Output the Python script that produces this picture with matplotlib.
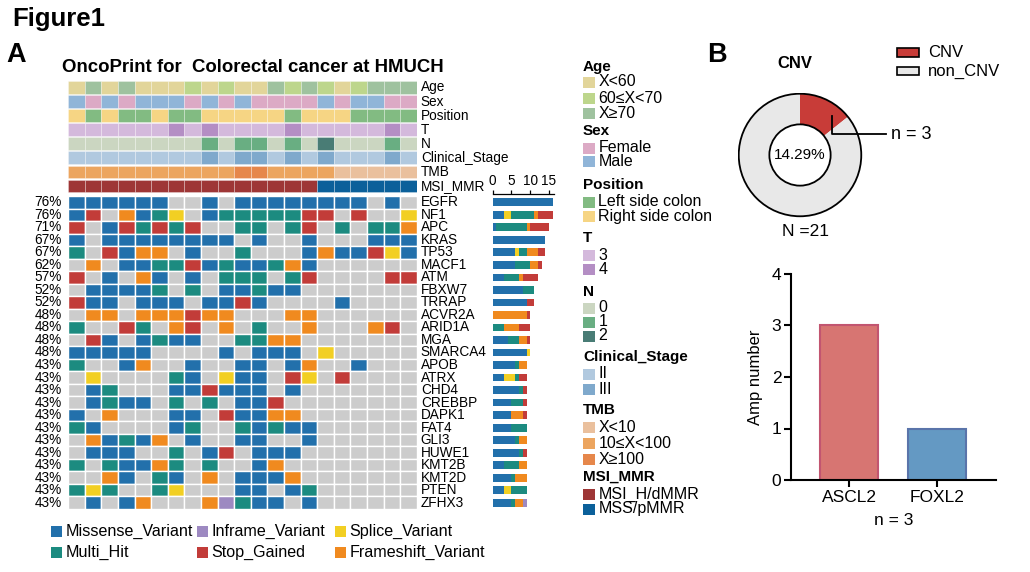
import matplotlib
matplotlib.use('Agg')
import matplotlib.pyplot as plt
from matplotlib.patches import Rectangle, Circle
import numpy as np

plt.rcParams['font.family'] = ['Liberation Sans', 'DejaVu Sans']

# ---------------- data ----------------
samples = list(range(21))
genes = ['EGFR', 'NF1', 'APC', 'KRAS', 'TP53', 'MACF1', 'ATM', 'FBXW7', 'TRRAP',
         'ACVR2A', 'ARID1A', 'MGA', 'SMARCA4', 'APOB', 'ATRX', 'CHD4', 'CREBBP',
         'DAPK1', 'FAT4', 'GLI3', 'HUWE1', 'KMT2B', 'KMT2D', 'PTEN', 'ZFHX3']
# B missense, M multi_hit, S stop_gained, F frameshift, P splice, I inframe, . none
mutations = [
    'BBBBBB..B.BBBBBBBB.B.',
    'BS.FBMP.BMMMMMSS.S..P',
    'S.BSMSMS..MM.MS.M.MMF',
    'B.BBBBBBBB.B..B...BBB',
    'M.SBFF.B..M...BFBBSPB',
    '.F.BBMMSBMBBMFB......',
    'S.B.FB.B.MMM.MS....SS',
    '.BBBBM.M.BBMBB.......',
    'SBB.BBB.BBSB....B....',
    '.FF.FFFSFF...FF......',
    'M..SM.FS.F.M..F...FS.',
    '.SB.BMBB..MMFF.......',
    'BBBBB....B.BBB.P.....',
    'M..BF..B..BB.BF..B...',
    '.P....MB.PBB.SP.S....',
    '.BM...BBSBBB.B.......',
    '.BMBB.M.M.BBS........',
    'B.F...BB.SBBFF.......',
    'MB....BM..MBMBB......',
    '.FBMBF.B..BB..B......',
    '.BBB..M.BS.BBB.......',
    'M.MBBFM.M..BF........',
    '..FB.MB.F.BBBF.......',
    'MPM..MP...BB.BM......',
    '.B.BF...FIMBB.B......',
]

age = ['X<60', 'X≥70', 'X<60', 'X≥70', 'X<60', 'X<60', 'X<60', '60≤X<70', 'X<60',
       '60≤X<70', 'X<60', 'X<60', 'X≥70', '60≤X<70', 'X≥70', '60≤X<70', 'X<60',
       '60≤X<70', 'X≥70', 'X≥70', 'X≥70']
sex = ['Male', 'Female', 'Male', 'Female', 'Male', 'Male', 'Male', 'Female', 'Male',
       'Female', 'Male', 'Female', 'Female', 'Female', 'Female', 'Male', 'Female',
       'Male', 'Male', 'Female', 'Female']
position = ['R', 'L', 'R', 'L', 'L', 'R', 'L', 'L', 'R', 'R', 'R', 'R', 'R', 'L', 'R',
            'R', 'R', 'L', 'L', 'L', 'L']
t_stage = ['3', '3', '3', '3', '3', '3', '4', '3', '4', '3', '3', '3', '3', '4', '3',
           '3', '3', '3', '3', '4', '3']
n_stage = ['0', '0', '0', '0', '0', '0', '0', '0', '1', '0', '1', '1', '0', '1', '0',
           '2', '0', '0', '0', '1', '0']
clinical = ['II', 'II', 'II', 'II', 'II', 'II', 'II', 'II', 'III', 'II', 'III', 'III',
            'II', 'III', 'II', 'III', 'II', 'II', 'II', 'III', 'II']
tmb = ['10≤X<100'] * 10 + ['X≥100'] * 2 + ['10≤X<100'] * 4 + ['X<10'] * 5
msi = ['MSI_H/dMMR'] * 15 + ['MSS/pMMR'] * 6

cnv_labels = ['CNV', 'non_CNV']
cnv_counts = [3, 18]
amp_genes = ['ASCL2', 'FOXL2']
amp_counts = [3, 1]

# ---------------- styles ----------------
mut_colors = {'B': '#2270ab', 'M': '#1c8b80', 'S': '#c23c39', 'F': '#f08a1f',
              'P': '#f2cf23', 'I': '#9d89c1', '.': '#cccccc'}
mut_order = ['B', 'P', 'M', 'F', 'S', 'I']
mut_names = {'B': 'Missense_Variant', 'M': 'Multi_Hit', 'I': 'Inframe_Variant',
             'S': 'Stop_Gained', 'P': 'Splice_Variant', 'F': 'Frameshift_Variant'}

age_c = {'X<60': '#e2d59a', '60≤X<70': '#bdd68c', 'X≥70': '#9fc29f'}
sex_c = {'Female': '#dcaac5', 'Male': '#90b5d8'}
pos_c = {'L': '#82bb82', 'R': '#f6d584'}
pos_names = {'L': 'Left side colon', 'R': 'Right side colon'}
t_c = {'3': '#d4b9dc', '4': '#b48ec4'}
n_c = {'0': '#cbd6c1', '1': '#69ae82', '2': '#497c75'}
st_c = {'II': '#b1c9df', 'III': '#7fa9cc'}
tmb_c = {'X<10': '#eac09d', '10≤X<100': '#eca55f', 'X≥100': '#e6874b'}
msi_c = {'MSI_H/dMMR': '#9e3636', 'MSS/pMMR': '#0b609a'}

W, H = 1030, 572
LAB = 9.8


def rect(l, t, r, b):
    return [l / W, 1 - b / H, (r - l) / W, (b - t) / H]


fig = plt.figure(figsize=(10.3, 5.72), dpi=100)
ov = fig.add_axes([0, 0, 1, 1])
ov.set_xlim(0, W)
ov.set_ylim(H, 0)
ov.axis('off')

ov.text(12, 26, 'Figure1', fontsize=18.5, fontweight='bold', va='baseline')
ov.text(6, 61.5, 'A', fontsize=19.5, fontweight='bold', va='baseline')
ov.text(707, 61.5, 'B', fontsize=19.5, fontweight='bold', va='baseline')
ov.text(61.5, 72.5, 'OncoPrint for  Colorectal cancer at HMUCH', fontsize=13.4,
        fontweight='bold', va='baseline')

# ---------------- annotation tracks ----------------
ax_a = fig.add_axes(rect(68.3, 81, 416.7, 192.5))
tracks = [('Age', age, age_c), ('Sex', sex, sex_c), ('Position', position, pos_c),
          ('T', t_stage, t_c), ('N', n_stage, n_c), ('Clinical_Stage', clinical, st_c),
          ('TMB', tmb, tmb_c), ('MSI_MMR', msi, msi_c)]
for i, (name, vals, cm) in enumerate(tracks):
    ax_a.bar(samples, 0.91, bottom=i - 0.455, width=1, color=[cm[v] for v in vals],
             edgecolor=(1, 1, 1, 0.5), linewidth=0.4)
    ax_a.text(20.75, i, name, va='center', ha='left', fontsize=LAB)
ax_a.set_xlim(-0.5, 20.5)
ax_a.set_ylim(7.455, -0.455)
ax_a.axis('off')

# ---------------- mutation matrix ----------------
ax_m = fig.add_axes(rect(68.3, 196, 416.7, 509))
for i, g in enumerate(genes):
    row = mutations[i]
    ax_m.bar(samples, 1, bottom=i - 0.5, width=1, color=[mut_colors[c] for c in row],
             edgecolor='white', linewidth=1.0)
    ax_m.text(20.75, i, g, va='center', ha='left', fontsize=LAB)
    pct = round(100 * sum(c != '.' for c in row) / len(row))
    ax_m.text(-0.88, i, f'{pct}%', va='center', ha='right', fontsize=LAB)
ax_m.set_xlim(-0.5, 20.5)
ax_m.set_ylim(24.5, -0.5)
ax_m.axis('off')

# ---------------- side bar plot ----------------
ax_s = fig.add_axes(rect(492.7, 194, 554.3, 509))
left = np.zeros(len(genes))
for t in mut_order:
    counts = np.array([row.count(t) for row in mutations])
    ax_s.barh(range(len(genes)), counts, left=left, height=0.62, color=mut_colors[t])
    left += counts
ax_s.set_xlim(0, 16.4)
ax_s.set_ylim(24.5, -0.66)
for s in ['bottom', 'left', 'right']:
    ax_s.spines[s].set_visible(False)
ax_s.spines['top'].set_linewidth(0.9)
ax_s.set_xticks([0, 5, 10, 15])
ax_s.set_yticks([])
ax_s.tick_params(axis='x', top=True, bottom=False, labeltop=True, labelbottom=False,
                 direction='out', length=3, width=0.9, pad=1, labelsize=9.8)
ax_s.patch.set_visible(False)

# ---------------- right legends ----------------
def legend_group(title, y_title, items):
    ov.text(583, y_title, title, fontsize=11, fontweight='bold', va='center')
    for label, color, y in items:
        ov.add_patch(Rectangle((583, y - 5.5), 12, 11, facecolor=color, edgecolor='none'))
        ov.text(598.5, y, label, fontsize=11.5, va='center')


legend_group('Age', 67, [(k, age_c[k], y) for k, y in zip(age_c, [82, 98.5, 113.5])])
legend_group('Sex', 131, [(k, sex_c[k], y) for k, y in zip(sex_c, [148, 161])])
legend_group('Position', 185, [(pos_names[k], pos_c[k], y) for k, y in zip(pos_c, [202, 216])])
legend_group('T', 238, [(k, t_c[k], y) for k, y in zip(t_c, [255, 269])])
legend_group('N', 292, [(k, n_c[k], y) for k, y in zip(n_c, [308, 322, 336])])
legend_group('Clinical_Stage', 357, [(k, st_c[k], y) for k, y in zip(st_c, [374, 389])])
legend_group('TMB', 410, [(k, tmb_c[k], y) for k, y in zip(tmb_c, [427, 443.5, 459])])
legend_group('MSI_MMR', 477, [(k, msi_c[k], y) for k, y in zip(msi_c, [494, 509])])

# ---------------- bottom legend ----------------
bottom_layout = [('B', 50.7, 531), ('M', 50.7, 552), ('I', 196.7, 531), ('S', 196.7, 552),
                 ('P', 334.5, 531), ('F', 334.5, 552)]
for code, x, y in bottom_layout:
    ov.add_patch(Rectangle((x, y - 5.5), 11, 11, facecolor=mut_colors[code], edgecolor='none'))
    ov.text(x + 15, y, mut_names[code], fontsize=11.6, va='center')

# ---------------- donut ----------------
cx, cy, r = 800, 155, 62.5
ax_p = fig.add_axes(rect(cx - r, cy - r, cx + r, cy + r))
ax_p.pie(cnv_counts, colors=['#c83c38', '#e8e8e8'], startangle=90, counterclock=False,
         radius=1, wedgeprops=dict(width=0.5, edgecolor='none'))
ax_p.add_patch(Circle((0, 0), 1, fill=False, edgecolor='black', linewidth=1.3))
ax_p.add_patch(Circle((0, 0), 0.5, fill=False, edgecolor='black', linewidth=1.3))
ax_p.set_xlim(-1.02, 1.02)
ax_p.set_ylim(-1.02, 1.02)
ax_p.plot([0.52, 0.52, 1.41], [0.64, 0.336, 0.336], color='black', lw=1.3, clip_on=False)
ax_p.text(1.48, 0.336, f'n = {cnv_counts[0]}', va='center', ha='left', fontsize=13)
pct_cnv = 100 * cnv_counts[0] / sum(cnv_counts)
ax_p.text(0, 0, f'{pct_cnv:.2f}%', ha='center', va='center', fontsize=11)
ov.text(cx + 5, 232, f'N ={sum(cnv_counts)}', ha='center', va='center', fontsize=12.5)
ov.text(795, 63.5, 'CNV', ha='center', va='center', fontsize=12, fontweight='bold')
for lab, col, y in zip(cnv_labels, ['#c83c38', '#e8e8e8'], [52.5, 71]):
    ov.add_patch(Rectangle((897, y - 4.3), 21.5, 8.6, facecolor=col, edgecolor='black',
                           linewidth=1.2))
    ov.text(928, y, lab, va='center', fontsize=12)

# ---------------- amp bar chart ----------------
ax_b = fig.add_axes(rect(791, 274, 996, 480))
ax_b.bar(range(len(amp_genes)), amp_counts, width=0.66, color=['#d77572', '#6499c3'],
         edgecolor=['#c25570', '#5a74aa'], linewidth=1.5)
ax_b.set_xlim(-0.66, 1.67)
ax_b.set_ylim(0, 4)
ax_b.set_yticks([0, 1, 2, 3, 4])
ax_b.set_xticks(range(len(amp_genes)))
ax_b.set_xticklabels(amp_genes)
for s in ['top', 'right']:
    ax_b.spines[s].set_visible(False)
for s in ['left', 'bottom']:
    ax_b.spines[s].set_linewidth(1.5)
ax_b.tick_params(length=5, width=1.5, labelsize=12.5, pad=2)
ax_b.set_ylabel('Amp number', fontsize=12, labelpad=6)
ax_b.set_xlabel(f'n = {cnv_counts[0]}', fontsize=12.5, labelpad=6)
ax_b.patch.set_visible(False)

fig.savefig('out.png', dpi=100)
